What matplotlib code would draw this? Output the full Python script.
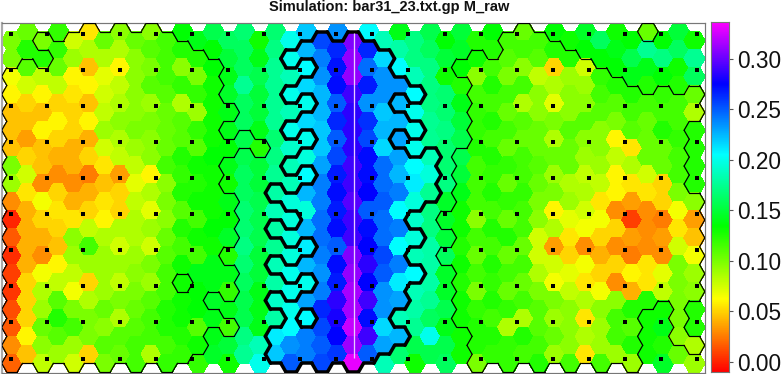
import matplotlib
matplotlib.use("Agg")
import matplotlib.pyplot as plt
import numpy as np
from matplotlib.collections import PolyCollection, LineCollection
from matplotlib.colors import LinearSegmentedColormap, Normalize

TITLE = "Simulation: bar31_23.txt.gp M_raw"
TICKS = [0.00, 0.05, 0.10, 0.15, 0.20, 0.25, 0.30]

# M_raw per hexagon column, top to bottom
c00 = [.100,.100,.065,.060,.045,.045,.045,.100,.090,.030,.000,.015,.003,.008,.005,.012,.015,.030,.018]
c01 = [.105,.125,.110,.075,.050,.045,.035,.050,.075,.055,.040,.040,.040,.040,.050,.050,.050,.060,.045]
c02 = [.100,.125,.080,.060,.045,.060,.045,.045,.030,.065,.050,.040,.030,.065,.085,.090,.105,.095,.080]
c03 = [.120,.120,.105,.080,.050,.060,.050,.040,.030,.050,.055,.050,.045,.060,.080,.110,.125,.110,.090]
c04 = [.075,.090,.060,.055,.050,.050,.040,.040,.030,.040,.055,.095,.090,.080,.065,.100,.115,.090,.075]
c05 = [.055,.085,.045,.060,.045,.060,.040,.050,.025,.040,.050,.080,.115,.090,.050,.085,.100,.100,.050]
c06 = [.105,.085,.070,.075,.080,.090,.075,.055,.045,.055,.060,.085,.090,.090,.090,.105,.095,.110,.100]
c07 = [.095,.085,.060,.080,.085,.095,.085,.080,.035,.050,.050,.085,.075,.090,.080,.100,.085,.110,.105]
c08 = [.105,.095,.095,.095,.095,.100,.090,.080,.070,.080,.085,.085,.090,.095,.100,.105,.110,.115,.115]
c09 = [.095,.110,.100,.110,.090,.100,.095,.095,.060,.085,.070,.090,.075,.100,.090,.110,.115,.115,.085]
c10 = [.115,.115,.115,.110,.105,.105,.105,.115,.095,.100,.095,.105,.110,.115,.115,.125,.125,.115,.120]
c11 = [.135,.125,.095,.120,.085,.110,.110,.125,.120,.125,.110,.125,.115,.130,.130,.130,.130,.125,.120]
c12 = [.140,.125,.100,.120,.090,.120,.110,.130,.125,.130,.115,.130,.115,.140,.135,.135,.110,.130,.120]
c13 = [.155,.135,.135,.130,.130,.130,.130,.135,.130,.130,.130,.135,.130,.140,.140,.145,.140,.140,.145]
c14 = [.160,.150,.140,.145,.140,.140,.135,.140,.130,.140,.135,.145,.125,.140,.120,.140,.115,.150,.130]
c15 = [.165,.160,.160,.175,.160,.160,.155,.155,.160,.160,.165,.165,.170,.165,.160,.155,.155,.170,.175]
c16 = [.130,.140,.155,.150,.150,.140,.125,.150,.150,.155,.155,.155,.150,.150,.140,.140,.140,.185,.200]
c17 = [.165,.170,.175,.175,.175,.175,.165,.170,.175,.180,.185,.180,.175,.185,.180,.190,.180,.210,.220]
c18 = [.200,.200,.185,.200,.185,.200,.190,.185,.185,.195,.195,.195,.195,.200,.200,.200,.205,.235,.250]
c19 = [.220,.225,.205,.215,.200,.215,.200,.195,.205,.225,.195,.225,.210,.225,.200,.230,.205,.240,.240]
c20 = [.255,.240,.235,.225,.225,.220,.220,.230,.240,.240,.245,.245,.240,.235,.240,.265,.255,.250,.255]
c21 = [.235,.265,.270,.272,.250,.265,.250,.255,.268,.272,.268,.272,.250,.272,.268,.285,.280,.275,.260]
c22 = [.305,.310,.310,.290,.285,.285,.285,.290,.290,.295,.290,.290,.305,.310,.315,.315,.322,.312,.330]
c23 = [.205,.265,.245,.268,.235,.262,.255,.272,.272,.275,.250,.272,.275,.285,.275,.290,.272,.290,.250]
c24 = [.185,.215,.235,.235,.220,.225,.215,.245,.245,.250,.245,.245,.255,.250,.235,.235,.215,.230,.185]
c25 = [.140,.180,.205,.235,.225,.225,.230,.230,.225,.240,.205,.240,.205,.240,.210,.230,.185,.225,.165]
c26 = [.170,.170,.185,.205,.200,.200,.200,.205,.210,.195,.190,.195,.185,.205,.185,.180,.175,.155,.130]
c27 = [.155,.160,.170,.170,.170,.175,.175,.185,.195,.175,.170,.170,.180,.180,.180,.175,.160,.200,.155]
c28 = [.135,.150,.130,.165,.165,.170,.165,.165,.170,.145,.145,.150,.160,.145,.145,.155,.140,.155,.160]
c29 = [.150,.145,.135,.125,.140,.150,.155,.155,.150,.140,.130,.130,.125,.130,.125,.130,.130,.130,.130]
c30 = [.125,.130,.095,.115,.120,.120,.125,.115,.115,.115,.095,.115,.105,.115,.100,.120,.125,.125,.100]
c31 = [.135,.125,.115,.125,.115,.125,.115,.125,.120,.125,.115,.125,.115,.125,.120,.125,.115,.125,.120]
c32 = [.115,.110,.100,.115,.105,.115,.105,.120,.105,.120,.105,.125,.105,.115,.105,.120,.085,.120,.120]
c33 = [.105,.115,.095,.115,.085,.110,.105,.115,.115,.120,.115,.115,.105,.115,.105,.115,.085,.125,.115]
c34 = [.115,.110,.080,.095,.095,.105,.105,.110,.105,.100,.095,.075,.075,.085,.100,.110,.110,.115,.125]
c35 = [.135,.125,.050,.085,.070,.100,.085,.105,.090,.100,.060,.085,.035,.075,.065,.100,.090,.105,.090]
c36 = [.130,.125,.090,.095,.095,.110,.105,.105,.085,.090,.070,.055,.050,.070,.080,.095,.095,.095,.115]
c37 = [.145,.135,.075,.090,.095,.110,.095,.090,.080,.085,.075,.065,.030,.065,.055,.085,.055,.085,.055]
c38 = [.160,.135,.120,.115,.110,.095,.095,.090,.080,.055,.065,.050,.040,.050,.065,.095,.090,.090,.115]
c39 = [.130,.140,.135,.125,.110,.100,.060,.080,.060,.060,.030,.050,.030,.050,.030,.095,.115,.115,.090]
c40 = [.135,.155,.140,.125,.115,.110,.055,.085,.055,.035,.008,.035,.025,.060,.040,.125,.110,.125,.090]
c41 = [.105,.175,.140,.125,.115,.105,.105,.105,.075,.055,.030,.030,.030,.055,.055,.125,.130,.130,.130]
c42 = [.135,.170,.135,.120,.115,.125,.105,.105,.050,.050,.025,.035,.030,.070,.080,.130,.140,.125,.145]
c43 = [.150,.160,.130,.125,.115,.115,.120,.115,.115,.100,.065,.055,.075,.100,.100,.100,.100,.095,.105]
c44 = [.130,.175,.160,.105,.085,.125,.125,.125,.125,.095,.035,.045,.065,.090,.095,.125,.125,.085,.090]
columns = [c00,c01,c02,c03,c04,c05,c06,c07,c08,c09,c10,c11,c12,c13,c14,c15,c16,c17,c18,c19,c20,c21,
           c22,c23,c24,c25,c26,c27,c28,c29,c30,c31,c32,c33,c34,c35,c36,c37,c38,c39,c40,c41,c42,c43,c44]

# Rows (per column) inside the thin outline: low-value regions
R = lambda a, b: list(range(a, b + 1))
thin_left = {0:R(2,18),1:R(2,18),2:[0]+R(2,18),3:R(1,18),4:R(0,18),5:R(0,18),6:R(0,18),7:R(0,18),8:R(0,18),
             9:R(0,18),10:R(0,18),11:R(1,13)+R(15,18),12:R(1,17),13:R(2,14)+[16],
             14:[4,6,9,10,11,13,14,16],15:[6],16:[6]}
thin_right = {28:[10,12],29:[2]+R(7,16),30:R(1,18),31:R(2,18),32:R(0,18),33:R(0,18),34:R(0,18),35:R(1,18),
              36:R(1,18),37:R(2,18),38:R(2,18),39:R(3,18),40:R(3,18),41:[0]+R(4,15),42:R(3,14),43:R(4,17),
              44:[3,4]+R(9,14)+[17]}
# Rows (per column) inside the thick outline: high-value region
thick = {17:[9,11,13,15,17,18],18:[1,3,5,7,9,11,13,15,16,17,18],19:[1,3,5,7,9,10,11,13,15,17,18],
         20:R(0,18),21:R(1,18),22:R(0,18),23:R(1,18),24:R(1,17),25:[3,5]+R(7,15)+[17],
         26:[3,5,7,8,9,11,13],27:[7,8,9]}

# Marker grid of the simulation (centres, in image pixels)
dot_x = [11,47,83,120,156,192,228,264,300,336,372,408,445,481,517,553,589,625,661,697]
dot_y = [33.7,69.7,105.7,141.7,178,214,250,286,322,359]
bar_x = [354, 354]
bar_y = [33, 358]

W, H = 783, 374
X0, DX, S = 12.0, 15.51, 10.34      # hexagon lattice, image pixels
Y_EVEN, Y_ODD, DY = 40.7, 31.7, 17.92
HH = DY / 2

anchors = [(-.0102,"#ff0000"),(.062,"#ffff00"),(.134,"#00ff00"),(.205,"#00ffff"),(.275,"#0000ff"),(.336,"#ff00ff")]
vmin, vmax = anchors[0][0], anchors[-1][0]
cmap = LinearSegmentedColormap.from_list("rb", [((v-vmin)/(vmax-vmin), c) for v, c in anchors], N=512)
norm = Normalize(vmin, vmax)

def centre(i, j):
    return X0 + DX * i, (Y_ODD if i % 2 else Y_EVEN) + DY * j

def hexverts(i, j):
    x, y = centre(i, j)
    return [(x+S,y),(x+S/2,y+HH),(x-S/2,y+HH),(x-S,y),(x-S/2,y-HH),(x+S/2,y-HH)]

def neighbours(i, j):
    # same order as the edges between consecutive hexverts
    low = j + 1 if i % 2 == 0 else j      # row index of the lower side neighbour
    up = low - 1
    return [(i+1,low),(i,j+1),(i-1,low),(i-1,up),(i,j-1),(i+1,up)]

def outline(mask):
    cells = {(c, r) for c, rows in mask.items() for r in rows}
    segs = []
    for (c, r) in cells:
        v = hexverts(c, r)
        for k, n in enumerate(neighbours(c, r)):
            if n not in cells:
                segs.append([v[k], v[(k+1) % 6]])
    return segs

fig = plt.figure(figsize=(W/100, H/100), dpi=100)
plt.rcParams['font.family'] = ['Liberation Sans', 'DejaVu Sans']
L, T, Rt, B = 2.0, 22.5, 705.0, 372.5
ax = fig.add_axes([L/W, 1-B/H, (Rt-L)/W, (B-T)/H])
ax.set_xlim(L, Rt); ax.set_ylim(B, T)
ax.set_xticks([]); ax.set_yticks([])

verts, vals = [], []
for i, col in enumerate(columns):
    for j, v in enumerate(col):
        verts.append(hexverts(i, j)); vals.append(v)
ax.add_collection(PolyCollection(verts, array=np.array(vals), cmap=cmap, norm=norm,
                                 edgecolors='face', linewidths=0.3, antialiased=False, zorder=1))

px = 72/100
ax.add_collection(LineCollection(outline(thin_left)+outline(thin_right), colors='black',
                                 linewidths=1.2*px, capstyle='round', zorder=3))
ax.add_collection(LineCollection(outline(thick), colors='black', linewidths=3.5*px,
                                 capstyle='round', zorder=4))
dx, dy = np.meshgrid(dot_x, dot_y)
ax.scatter(dx.ravel(), dy.ravel(), marker='s', s=(4.3*px)**2, c='black', linewidths=0, zorder=5)
ax.plot(bar_x, bar_y, color='#e6ccff', lw=1.3*px, zorder=6, solid_capstyle='butt')

for s in ('top','bottom','right'):
    ax.spines[s].set_color('#777777'); ax.spines[s].set_linewidth(1.2*px)
ax.spines['left'].set_color('#aaaaaa'); ax.spines['left'].set_linewidth(2.2*px)

fig.text(389/W, 1-6.5/H, TITLE, ha='center', va='center', fontsize=10.5, fontweight='bold', color='#111111')

cax = fig.add_axes([711/W, 1-372/H, 17.7/W, 349.7/H])
grad = np.linspace(vmin, vmax, 512)[:, None]
cax.imshow(grad, origin='lower', aspect='auto', cmap=cmap, norm=norm, extent=[0, 1, vmin, vmax],
           interpolation='nearest')
cax.set_xticks([])
cax.yaxis.tick_right()
cax.set_yticks(TICKS)
cax.set_yticklabels([f"{t:.2f}" for t in TICKS], fontsize=16.3, color='#111111')
cax.tick_params(axis='y', length=3.0, width=0.8, color='#555555', pad=3.2)
for s in cax.spines.values():
    s.set_color('#777777'); s.set_linewidth(0.8)

fig.savefig("out.png", dpi=100)
